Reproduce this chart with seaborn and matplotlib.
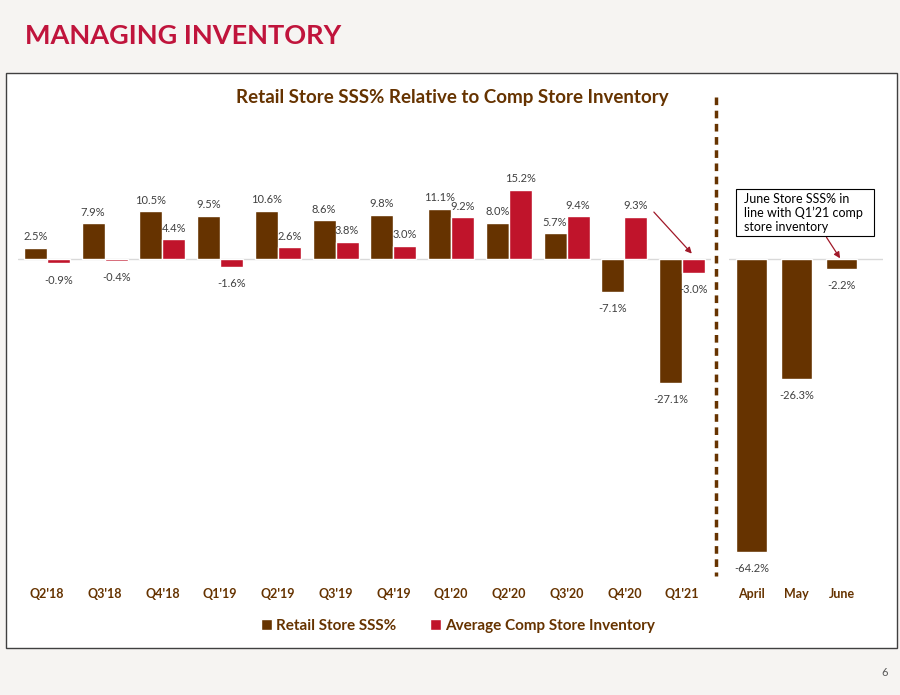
import numpy as np
import pandas as pd
import matplotlib
matplotlib.use("Agg")
import matplotlib.pyplot as plt
from matplotlib.lines import Line2D
from matplotlib.patches import Rectangle
import seaborn as sns

# data
quarters = ["Q2'18", "Q3'18", "Q4'18", "Q1'19", "Q2'19", "Q3'19",
            "Q4'19", "Q1'20", "Q2'20", "Q3'20", "Q4'20", "Q1'21"]
retail_sss = [2.5, 7.9, 10.5, 9.5, 10.6, 8.6, 9.8, 11.1, 8.0, 5.7, -7.1, -27.1]
comp_inventory = [-0.9, -0.4, 4.4, -1.6, 2.6, 3.8, 3.0, 9.2, 15.2, 9.4, 9.3, -3.0]
months = ["April", "May", "June"]
monthly_sss = [-64.2, -26.3, -2.2]
series_names = ["Retail Store SSS%", "Average Comp Store Inventory"]

BROWN = "#663300"
RED = "#C0142B"
LABEL = "#404040"

sns.set_theme(style="white")
plt.rcParams['font.family'] = ['Lato', 'DejaVu Sans']

df = pd.DataFrame({
    "quarter": quarters * 2,
    "value": retail_sss + comp_inventory,
    "series": [series_names[0]] * len(quarters) + [series_names[1]] * len(quarters),
})

fig = plt.figure(figsize=(9, 6.95), dpi=100)
fig.patch.set_facecolor("#f6f4f2")

# white panel
fig.add_artist(Rectangle((6 / 900, 1 - 648 / 695), 891 / 900, 575 / 695,
                         transform=fig.transFigure, facecolor="white",
                         edgecolor="#404040", linewidth=1.0, zorder=0))

fig.text(25 / 900, 1 - 36 / 695, "MANAGING INVENTORY", color="#C0143C",
         fontsize=19.5, fontweight="bold", va="center", ha="left")
fig.text(452 / 900, 1 - 97 / 695, "Retail Store SSS% Relative to Comp Store Inventory",
         color=BROWN, fontsize=13.5, fontweight="bold", va="center", ha="center")
fig.text(885 / 900, 1 - 672 / 695, "6", color="#595959", fontsize=8, ha="center", va="center")

ax_bottom = 1 - 578.5 / 695
ax_height = 410.4 / 695
ax1 = fig.add_axes([18 / 900, ax_bottom, 693 / 900, ax_height])
ax2 = fig.add_axes([729 / 900, ax_bottom, 154 / 900, ax_height])

sns.barplot(data=df, x="quarter", y="value", hue="series", order=quarters,
            hue_order=series_names, palette=[BROWN, RED], width=0.8,
            saturation=1, ax=ax1)
sns.barplot(x=months, y=monthly_sss, color=BROWN, width=0.69, saturation=1, ax=ax2)

for ax in (ax1, ax2):
    ax.set_facecolor("none")
    ax.set_ylim(-70, 20)
    ax.axhline(0, color="#d9d9d9", linewidth=1, zorder=0)
    ax.set_xlabel("")
    ax.set_ylabel("")
    ax.set_yticks([])
    for s in ax.spines.values():
        s.set_visible(False)
    ax.tick_params(axis="x", length=0, pad=7, labelsize=9, labelcolor=BROWN)
    for t in ax.get_xticklabels():
        t.set_fontweight("bold")
    for c in ax.containers:
        vals = c.datavalues
        ax.bar_label(c, labels=[f"{v:.1f}%" if v >= 0 else "" for v in vals],
                     padding=4, fontsize=8, color=LABEL)
        ax.bar_label(c, labels=[f"{v:.1f}%" if v < 0 else "" for v in vals],
                     padding=8, fontsize=8, color=LABEL)

ax1.set_xlim(-0.5, 11.5)
ax2.set_xlim(-0.5, 2.92)

handles, labels = ax1.get_legend_handles_labels()
ax1.get_legend().remove()
fig.legend(handles, labels, loc="center", bbox_to_anchor=(458 / 900, 1 - 626 / 695),
           ncol=2, frameon=False, handlelength=0.7, handleheight=0.7,
           handletextpad=0.3, columnspacing=2.2,
           prop={"size": 11, "weight": "bold"}, labelcolor=BROWN)

# dashed divider
fig.add_artist(Line2D([716 / 900, 716 / 900], [1 - 97 / 695, 1 - 576 / 695],
                      transform=fig.transFigure, color=BROWN, linewidth=2.5,
                      linestyle=(0, (2.2, 1.6))))

# callout
fig.add_artist(Rectangle((736 / 900, 1 - 236 / 695), 138 / 900, 47 / 695,
                         transform=fig.transFigure, facecolor="white",
                         edgecolor="black", linewidth=0.8, zorder=3))
fig.text(744 / 900, 1 - 213 / 695, "June Store SSS% in\nline with Q1\u201921 comp\nstore inventory",
         fontsize=9, color="black", va="center", ha="left", linespacing=1.2, zorder=4)

arrow = dict(arrowstyle="-|>", color="#A01828", linewidth=0.9, mutation_scale=9)
ax2.annotate("", xy=(2, -0.3), xycoords="data",
             xytext=(825 / 900, 1 - 235 / 695), textcoords="figure fraction",
             arrowprops=arrow)
ax1.annotate("", xy=(11.2, 0.8), xycoords="data",
             xytext=(652 / 900, 1 - 210 / 695), textcoords="figure fraction",
             arrowprops=arrow)

fig.savefig("out.png", dpi=100, facecolor=fig.get_facecolor())
